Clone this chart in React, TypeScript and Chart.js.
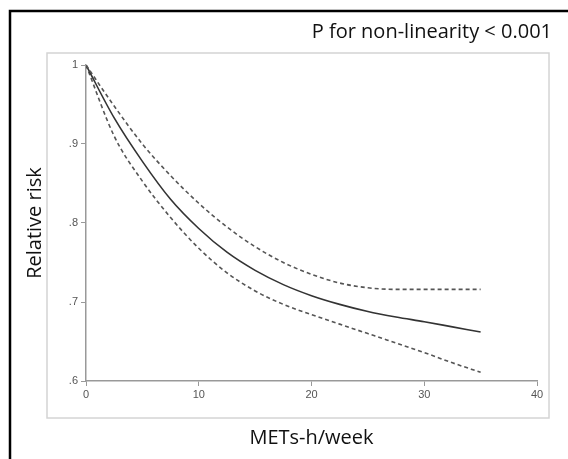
import React, { useEffect, useRef } from "react";
import { Chart, registerables } from "chart.js";

Chart.register(...registerables);

const mets = [0, 2.5, 5, 7.5, 10, 12.5, 15, 17.5, 20, 22.5, 25, 27.5, 30, 32.5, 35];
const rrEstimate = [1.0, 0.933, 0.878, 0.83, 0.793, 0.763, 0.74, 0.722, 0.708, 0.697, 0.688, 0.681, 0.675, 0.6685, 0.662];
const rrUpper = [1.0, 0.948, 0.9, 0.86, 0.825, 0.795, 0.77, 0.75, 0.735, 0.724, 0.718, 0.716, 0.716, 0.716, 0.716];
const rrLower = [1.0, 0.91, 0.853, 0.807, 0.768, 0.737, 0.714, 0.697, 0.684, 0.672, 0.66, 0.648, 0.636, 0.623, 0.611];

const xTicks = [0, 10, 20, 30, 40];
const yTicks = [0.6, 0.7, 0.8, 0.9, 1.0];
const yTickLabels = [".6", ".7", ".8", ".9", "1"];

const annotationText = "P for non-linearity < 0.001";
const xTitle = "METs-h/week";
const yTitle = "Relative risk";

const TITLE_FONT = "'Open Sans', 'Noto Sans', sans-serif";
const TICK_FONT = "'Liberation Sans', 'DejaVu Sans', sans-serif";

const framePlugin = {
  id: "framePlugin",
  beforeDraw(chart: any) {
    const ctx = chart.ctx;
    ctx.save();
    ctx.fillStyle = "#ffffff";
    ctx.fillRect(0, 0, chart.width, chart.height);
    // outer black frame (top and left visible)
    ctx.strokeStyle = "#000000";
    ctx.lineWidth = 2.5;
    ctx.beginPath();
    ctx.moveTo(10, chart.height);
    ctx.lineTo(10, 11);
    ctx.lineTo(chart.width, 11);
    ctx.stroke();
    // inner gray plot box
    ctx.strokeStyle = "#d4d4d4";
    ctx.lineWidth = 1.5;
    ctx.strokeRect(47, 53, 502, 365);
    // annotation
    ctx.fillStyle = "#111111";
    ctx.font = `20px ${TITLE_FONT}`;
    ctx.textAlign = "right";
    ctx.textBaseline = "middle";
    ctx.fillText(annotationText, 552, 32);
    ctx.restore();
  },
};

export default function App() {
  const ref = useRef<HTMLCanvasElement | null>(null);

  useEffect(() => {
    if (!ref.current) return;
    const mk = (vals: number[]) => mets.map((x, i) => ({ x, y: vals[i] }));
    const chart = new Chart(ref.current, {
      type: "line",
      data: {
        datasets: [
          {
            label: "Upper CI",
            data: mk(rrUpper),
            borderColor: "#555555",
            borderWidth: 1.6,
            borderDash: [4, 3],
            pointRadius: 0,
            cubicInterpolationMode: "monotone",
            fill: false,
          },
          {
            label: "Relative risk",
            data: mk(rrEstimate),
            borderColor: "#333333",
            borderWidth: 1.6,
            pointRadius: 0,
            cubicInterpolationMode: "monotone",
            fill: false,
          },
          {
            label: "Lower CI",
            data: mk(rrLower),
            borderColor: "#555555",
            borderWidth: 1.6,
            borderDash: [4, 3],
            pointRadius: 0,
            cubicInterpolationMode: "monotone",
            fill: false,
          },
        ],
      },
      options: {
        animation: false,
        responsive: false,
        maintainAspectRatio: false,
        layout: { padding: { left: 0, top: 65, right: 31, bottom: 0 } },
        plugins: {
          legend: { display: false },
          tooltip: { enabled: false },
          title: { display: false },
        },
        scales: {
          x: {
            type: "linear",
            min: 0,
            max: 40,
            afterFit: (s: any) => {
              s.height = 78;
            },
            afterBuildTicks: (s: any) => {
              s.ticks = xTicks.map((v) => ({ value: v }));
            },
            ticks: {
              font: { family: TICK_FONT, size: 11 },
              color: "#555555",
              padding: 2,
              maxRotation: 0,
              callback: (v: any) => String(v),
            },
            grid: {
              drawOnChartArea: false,
              drawTicks: true,
              tickLength: 5,
              tickColor: "#999999",
            },
            border: { display: true, color: "#999999", width: 1.5 },
            title: {
              display: true,
              text: xTitle,
              font: { family: TITLE_FONT, size: 20 },
              color: "#111111",
              padding: { top: 0, bottom: 9 },
            },
          },
          y: {
            type: "linear",
            min: 0.6,
            max: 1.0,
            afterFit: (s: any) => {
              s.width = 86;
            },
            afterBuildTicks: (s: any) => {
              s.ticks = yTicks.map((v) => ({ value: v }));
            },
            ticks: {
              font: { family: TICK_FONT, size: 11 },
              color: "#555555",
              padding: 3,
              callback: (v: any) => {
                const i = yTicks.findIndex((t) => Math.abs(t - v) < 1e-6);
                return i >= 0 ? yTickLabels[i] : "";
              },
            },
            grid: {
              drawOnChartArea: false,
              drawTicks: true,
              tickLength: 5,
              tickColor: "#999999",
            },
            border: { display: true, color: "#999999", width: 1.5 },
            title: {
              display: true,
              text: yTitle,
              font: { family: TITLE_FONT, size: 20 },
              color: "#111111",
              padding: { top: 23, bottom: 0 },
            },
          },
        },
      },
      plugins: [framePlugin],
    });
    return () => chart.destroy();
  }, []);

  return (
    <div style={{ position: "absolute", left: 0, top: 0, width: 568, height: 459 }}>
      <canvas ref={ref} width={568} height={459} style={{ width: 568, height: 459 }} />
    </div>
  );
}
